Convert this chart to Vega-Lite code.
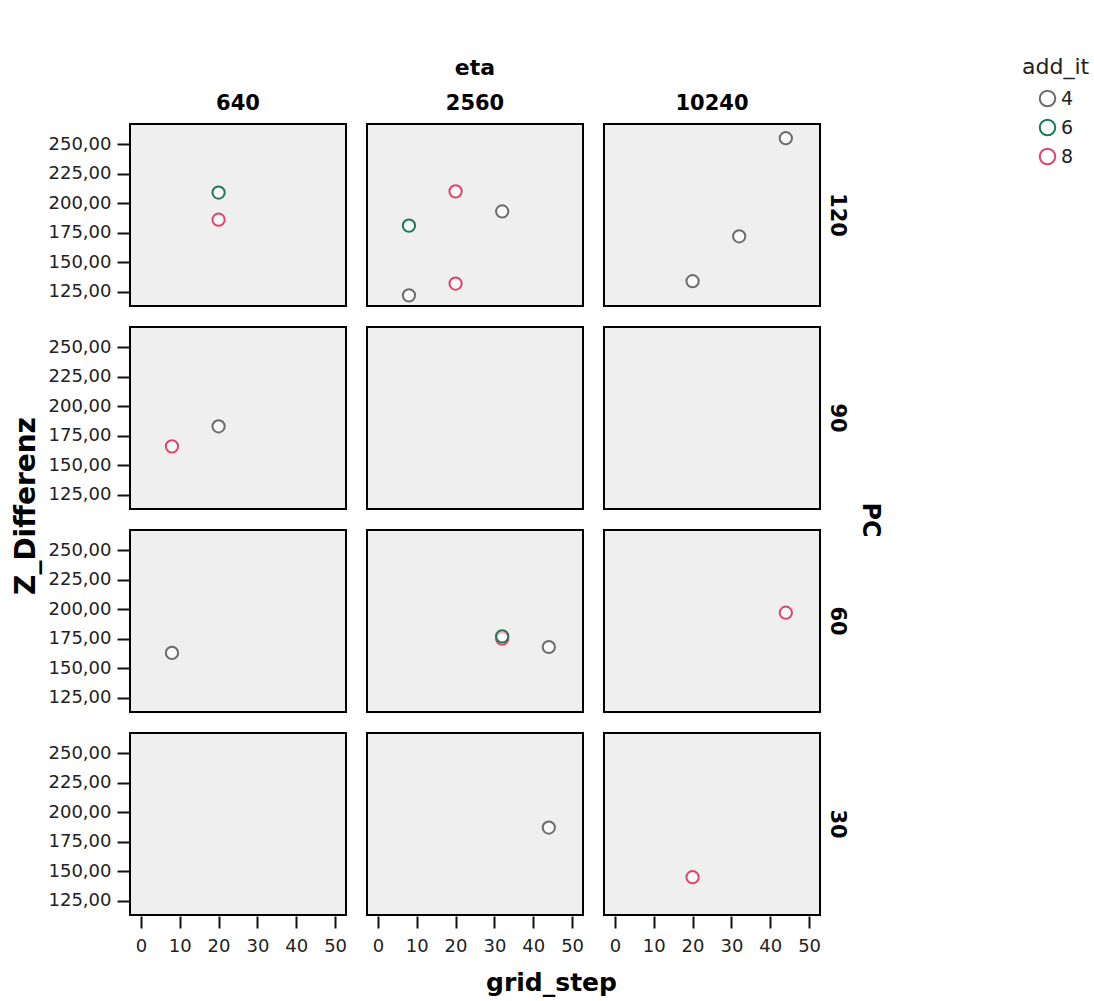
{
  "$schema": "https://vega.github.io/schema/vega-lite/v6.json",
  "background": "white",
  "padding": {"left": 13, "top": 57, "right": 5, "bottom": 3},
  "config": {
    "locale": {"number": {"decimal": ",", "thousands": ".", "grouping": [3], "currency": ["", " €"]}},
    "font": "DejaVu Sans",
    "view": {"fill": "#efefef", "stroke": "#000000", "strokeWidth": 2},
    "facet": {"spacing": 19},
    "concat": {"spacing": 0},
    "axis": {"grid": false, "domain": false, "tickColor": "#111111", "tickWidth": 2, "labelFontSize": 18, "labelColor": "#222222", "title": null},
    "header": {"labelFontSize": 21, "labelFontWeight": "bold", "labelColor": "#000000", "titleFontSize": 22, "titleFontWeight": "bold", "titleColor": "#000000"}
  },
  "data": {"values": [
    {"eta": 640, "PC": 120, "grid_step": 20, "Z_Differenz": 209, "add_it": "6"},
    {"eta": 640, "PC": 120, "grid_step": 20, "Z_Differenz": 186, "add_it": "8"},
    {"eta": 2560, "PC": 120, "grid_step": 20, "Z_Differenz": 210, "add_it": "8"},
    {"eta": 2560, "PC": 120, "grid_step": 32, "Z_Differenz": 193, "add_it": "4"},
    {"eta": 2560, "PC": 120, "grid_step": 8, "Z_Differenz": 181, "add_it": "6"},
    {"eta": 2560, "PC": 120, "grid_step": 20, "Z_Differenz": 132, "add_it": "8"},
    {"eta": 2560, "PC": 120, "grid_step": 8, "Z_Differenz": 122, "add_it": "4"},
    {"eta": 10240, "PC": 120, "grid_step": 44, "Z_Differenz": 255, "add_it": "4"},
    {"eta": 10240, "PC": 120, "grid_step": 32, "Z_Differenz": 172, "add_it": "4"},
    {"eta": 10240, "PC": 120, "grid_step": 20, "Z_Differenz": 134, "add_it": "4"},
    {"eta": 640, "PC": 90, "grid_step": 20, "Z_Differenz": 183, "add_it": "4"},
    {"eta": 640, "PC": 90, "grid_step": 8, "Z_Differenz": 166, "add_it": "8"},
    {"eta": 640, "PC": 60, "grid_step": 8, "Z_Differenz": 163, "add_it": "4"},
    {"eta": 2560, "PC": 60, "grid_step": 32, "Z_Differenz": 175, "add_it": "8"},
    {"eta": 2560, "PC": 60, "grid_step": 32, "Z_Differenz": 177, "add_it": "6"},
    {"eta": 2560, "PC": 60, "grid_step": 44, "Z_Differenz": 168, "add_it": "4"},
    {"eta": 10240, "PC": 60, "grid_step": 44, "Z_Differenz": 197, "add_it": "8"},
    {"eta": 2560, "PC": 30, "grid_step": 44, "Z_Differenz": 187, "add_it": "4"},
    {"eta": 10240, "PC": 30, "grid_step": 20, "Z_Differenz": 145, "add_it": "8"}
  ]},
  "title": {"text": "grid_step", "orient": "bottom", "anchor": "middle", "fontSize": 25, "fontWeight": "bold", "color": "#000000", "offset": 16},
  "vconcat": [
    {
      "title": {"text": "Z_Differenz", "orient": "left", "anchor": "middle", "fontSize": 28, "fontWeight": "bold", "color": "#000000", "offset": 7},
      "facet": {
        "column": {"field": "eta", "type": "ordinal", "sort": "ascending", "title": "eta",
          "header": {"labelOrient": "top", "titleOrient": "top", "labelPadding": 9, "titlePadding": 3}},
        "row": {"field": "PC", "type": "ordinal", "sort": "descending", "title": "PC",
          "header": {"labelOrient": "right", "titleOrient": "right", "labelAngle": 90, "titleAngle": 90, "labelPadding": 6, "titlePadding": 0, "titleFontSize": 24}}
      },
      "spec": {
        "width": 216,
        "height": 182,
        "mark": {"type": "point", "shape": "circle", "filled": false, "size": 150, "strokeWidth": 2, "fill": "white", "fillOpacity": 0.6},
        "encoding": {
          "x": {"field": "grid_step", "type": "quantitative", "scale": {"domain": [-2.8, 52.8], "nice": false, "zero": false},
            "axis": {"values": [0, 10, 20, 30, 40, 50], "tickSize": 12, "labelPadding": 9}},
          "y": {"field": "Z_Differenz", "type": "quantitative", "scale": {"domain": [113, 267], "nice": false, "zero": false},
            "axis": {"values": [125, 150, 175, 200, 225, 250], "format": ".2f", "tickSize": 12, "labelPadding": 6}},
          "color": {"field": "add_it", "type": "nominal",
            "scale": {"domain": ["4", "6", "8"], "range": ["#6b6b6b", "#1e7856", "#e0436b"]},
            "legend": {"title": "add_it", "orient": "none", "legendX": 892, "legendY": -67, "titleFontSize": 22, "titleFontWeight": "normal", "titleColor": "#222222", "titlePadding": 10, "labelFontSize": 19, "labelColor": "#222222", "symbolSize": 240, "symbolStrokeWidth": 2, "rowPadding": 4, "symbolOffset": 16}}
        }
      }
    }
  ]
}
